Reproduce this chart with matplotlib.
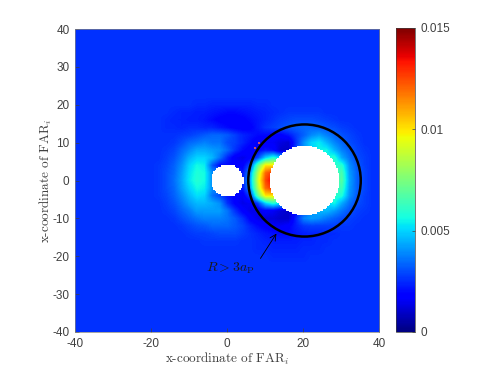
import numpy as np
import matplotlib
matplotlib.use('Agg')
import matplotlib.pyplot as plt
from matplotlib.patches import Circle

# values in units of 1e-3, read by eye, x = -20..36, y = 20..-20 (step 2)
background = 2.6
row_y20 = [2.6,2.6,2.6,2.6,2.6,2.6,2.5,2.5,2.4,2.4,2.4,2.4,2.4,2.4,2.5,2.5,2.6,2.6,2.6,2.6,2.6,2.6,2.6,2.6,2.6,2.6,2.6,2.6,2.6]
row_y18 = [2.6,2.6,2.6,2.5,2.4,2.4,2.3,2.3,2.2,2.1,2.0,2.0,2.1,2.2,2.3,2.4,2.5,2.6,2.7,2.7,2.7,2.7,2.7,2.6,2.6,2.6,2.6,2.6,2.6]
row_y16 = [2.6,2.6,2.5,2.4,2.4,2.3,2.3,2.2,2.0,1.8,1.7,1.7,1.8,2.0,2.2,2.4,2.6,2.8,2.9,3.0,3.0,3.0,2.9,2.8,2.7,2.6,2.6,2.6,2.6]
row_y14 = [2.6,2.6,2.5,2.5,2.4,2.5,2.5,2.4,2.4,2.2,2.0,1.8,1.7,1.8,2.2,2.6,2.8,3.0,3.2,3.3,3.4,3.4,3.3,3.1,3.0,2.8,2.7,2.6,2.6]
row_y12 = [2.6,2.6,2.6,2.6,2.7,2.8,3.0,3.2,3.4,3.4,3.2,2.8,2.4,2.2,2.0,2.0,1.9,1.8,2.2,2.8,3.3,3.9,4.2,3.8,3.4,3.1,2.9,2.7,2.6]
row_y10 = [2.6,2.6,2.6,2.7,3.0,3.4,3.6,3.8,3.6,3.6,3.0,2.8,2.4,2.0,1.6,1.6,1.6,1.3,1.1,2.6,4.0,5.0,5.4,4.6,3.9,3.4,3.0,2.8,2.6]
row_y8 = [2.6,2.6,2.7,2.9,3.4,3.9,4.4,4.4,4.2,4.0,3.4,2.6,2.0,1.6,1.8,2.2,2.0,1.0,1.0,3,4,5,5.5,5.6,4.6,3.8,3.3,2.9,2.7]
row_y6 = [2.6,2.6,2.8,3.1,3.7,4.5,5.0,5.0,4.6,3.6,2.4,1.6,1.4,1.8,3.0,5.0,6.0,5.0,5,5,5,5,5,5.5,6.0,4.4,3.6,3.0,2.8]
row_y4 = [2.6,2.7,2.9,3.3,4.0,5.0,5.6,5.4,3.2,2.0,2.0,1.8,1.8,3.0,7.0,10.0,10.0,7,6,6,6,6,6,6,6,6.0,4.0,3.2,2.8]
row_y2 = [2.6,2.7,3.0,3.4,4.2,5.2,5.8,5.6,4,4,4,3,2.2,4.2,8.5,12.0,13,12,7,6,6,6,6,6,6,6.6,4.2,3.3,2.9]
row_y0 = [2.6,2.7,3.0,3.5,4.3,5.3,5.9,5.6,4,4,4,3,2.4,4.5,9.0,12.5,14,13,7,6,6,6,6,6,6,6.8,4.3,3.3,2.9]
row_ym2 = [2.6,2.7,3.0,3.4,4.2,5.0,5.6,5.4,4,4,4,3,2.2,4.2,8.5,12.0,13,12,7,6,6,6,6,6,6,6.4,4.2,3.3,2.9]
row_ym4 = [2.6,2.7,2.9,3.3,3.9,4.6,5.2,5.0,3.6,3.0,2.2,1.8,1.6,2.8,7.0,10.0,10,7,6,6,6,6,6,6,6,5.8,4.0,3.2,2.8]
row_ym6 = [2.6,2.6,2.8,3.1,3.6,4.2,4.6,4.6,4.4,4.0,2.6,1.8,1.4,1.6,2.8,5.0,6.0,5.0,5,5,5,5,5,5,5.6,4.4,3.5,3.0,2.8]
row_ym8 = [2.6,2.6,2.7,2.9,3.3,3.7,4.2,4.2,4.2,4.2,3.6,2.6,1.8,1.4,1.4,1.8,1.6,1.2,1.0,2,3,4,4.6,4.6,4.2,3.6,3.1,2.8,2.7]
row_ym10 = [2.6,2.6,2.6,2.7,3.0,3.3,3.6,3.8,3.8,3.8,3.6,3.2,2.6,1.8,1.4,1.2,1.2,1.0,1.0,2.4,3.8,4.2,4.0,3.6,3.3,3.0,2.8,2.7,2.6]
row_ym12 = [2.6,2.6,2.6,2.6,2.7,2.9,3.1,3.2,3.4,3.4,3.4,3.2,2.9,2.4,2.0,1.8,1.6,1.6,1.8,2.3,2.7,2.8,2.8,2.8,2.8,2.7,2.7,2.6,2.6]
row_ym14 = [2.6,2.6,2.6,2.6,2.6,2.7,2.8,2.8,2.9,3.0,3.0,3.0,2.8,2.6,2.4,2.2,2.1,2.0,2.0,2.2,2.3,2.4,2.4,2.5,2.5,2.6,2.6,2.6,2.6]
row_ym16 = [2.6,2.6,2.6,2.6,2.6,2.6,2.6,2.7,2.7,2.7,2.7,2.7,2.6,2.6,2.5,2.4,2.3,2.3,2.3,2.3,2.4,2.4,2.5,2.5,2.6,2.6,2.6,2.6,2.6]
row_ym18 = [2.6,2.6,2.6,2.6,2.6,2.6,2.6,2.6,2.6,2.6,2.6,2.6,2.6,2.6,2.5,2.5,2.4,2.4,2.4,2.4,2.5,2.5,2.5,2.6,2.6,2.6,2.6,2.6,2.6]
row_ym20 = [2.6,2.6,2.6,2.6,2.6,2.6,2.6,2.6,2.6,2.6,2.6,2.6,2.6,2.6,2.6,2.6,2.5,2.5,2.5,2.5,2.5,2.6,2.6,2.6,2.6,2.6,2.6,2.6,2.6]

rows = [row_y20, row_y18, row_y16, row_y14, row_y12, row_y10, row_y8, row_y6, row_y4, row_y2, row_y0,
        row_ym2, row_ym4, row_ym6, row_ym8, row_ym10, row_ym12, row_ym14, row_ym16, row_ym18, row_ym20]

yticks = [-40, -30, -20, -10, 0, 10, 20, 30, 40]
xticks = [-40, -20, 0, 20, 40]
cbar_ticks = [0, 0.005, 0.01, 0.015]
cbar_labels = ['0', '0.005', '0.01', '0.015']

small_hole = (0.1, 0.0, 4.2)
big_hole = (20.4, 0.0, 9.2)
ring = (20.4, 0.0, 14.8)
speck_x = [7.4, 8.4]
speck_y = [8.6, 9.8]

plt.rcParams['font.family'] = ['Liberation Sans', 'DejaVu Sans']
plt.rcParams['mathtext.fontset'] = 'cm'
plt.rcParams['axes.unicode_minus'] = False

# rest of the -40..40 domain is flat background
field = np.pad(np.array(rows) * 1e-3, ((10, 10), (10, 2)), constant_values=background * 1e-3)

fig = plt.figure(figsize=(4.98, 3.74), dpi=100)
ax = fig.add_axes([75 / 498, 1 - 332 / 374, 304 / 498, 303 / 374])
im = ax.imshow(field, cmap='jet', vmin=0, vmax=0.015, extent=[-41, 41, -41, 41],
               interpolation='bilinear', aspect='auto')

# holes have stair-step edges in the original, so draw them on a fine cell grid
cells = np.linspace(-39.8, 39.8, 200)
gx, gy = np.meshgrid(cells, cells)
hole = np.zeros_like(gx, dtype=bool)
for cx, cy, r in (small_hole, big_hole):
    hole |= (gx - cx) ** 2 + (gy - cy) ** 2 < r ** 2
white = matplotlib.colors.ListedColormap(['white'])
ax.imshow(np.ma.masked_where(~hole, hole), cmap=white, extent=[-40, 40, -40, 40], origin='lower',
          interpolation='nearest', aspect='auto', zorder=2)

ax.scatter(speck_x, speck_y, s=3, marker='s', color='#c8506e', linewidths=0, zorder=2)
ax.add_patch(Circle(ring[:2], ring[2], facecolor='none', edgecolor='black', lw=1.8, zorder=3))

ax.annotate('', xy=(13.4, -13.4), xytext=(8.4, -21.2),
            arrowprops=dict(arrowstyle='->', color='black', lw=0.6, mutation_scale=11), zorder=4)
ax.text(1.0, -23.2, r'$R > 3a_{\mathrm{P}}$', fontsize=10, ha='center', va='center', color='#1a1a1a')

ax.set_xlim(-40, 40)
ax.set_ylim(-40, 40)
ax.set_xticks(xticks)
ax.set_yticks(yticks)
ax.tick_params(direction='in', length=3, width=0.5, labelsize=8.5, labelcolor='#404040', color='#404040', pad=4)
for s in ax.spines.values():
    s.set_linewidth(0.5)
    s.set_color('#808080')
ax.set_xlabel(r'x-coordinate of FAR$_i$', fontsize=9.5, color='#404040', labelpad=1, fontfamily='cmr10')
ax.set_ylabel(r'x-coordinate of FAR$_i$', fontsize=9.5, color='#404040', labelpad=-1, fontfamily='cmr10')

cax = fig.add_axes([396 / 498, 1 - 332 / 374, 19 / 498, 304 / 374])
cb = fig.colorbar(im, cax=cax)
cb.set_ticks(cbar_ticks)
cb.set_ticklabels(cbar_labels)
cb.ax.tick_params(direction='in', length=2, width=0.5, labelsize=8.5, labelcolor='#404040', color='#404040', pad=4)
cb.outline.set_linewidth(0.5)
cb.outline.set_edgecolor('#404040')

fig.savefig('out.png', dpi=100)
